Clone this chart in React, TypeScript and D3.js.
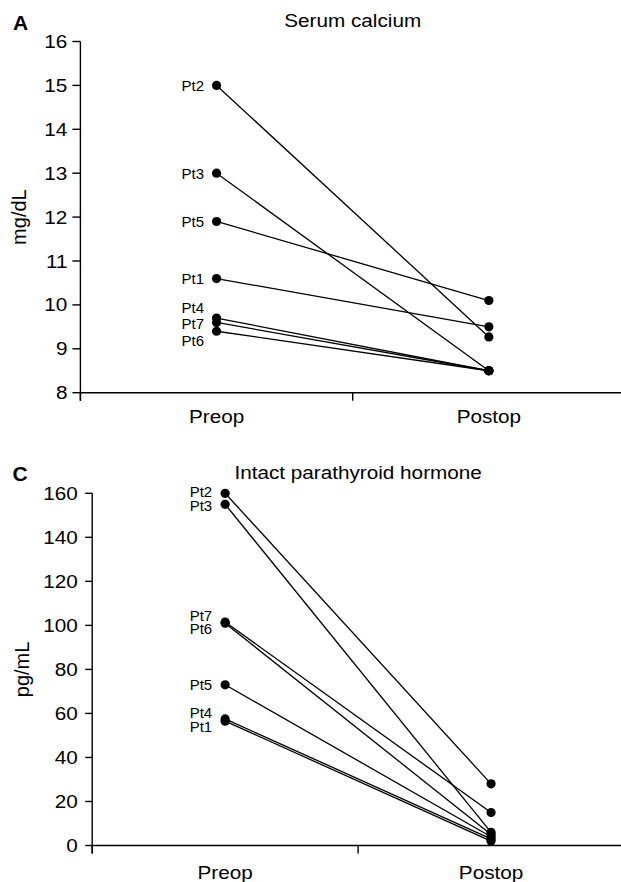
import React from 'react';
import * as d3 from 'd3';

// ---------- data ----------
const patients = ['Pt1', 'Pt2', 'Pt3', 'Pt4', 'Pt5', 'Pt6', 'Pt7'];
const timepoints = ['Preop', 'Postop'];

const calciumPreop = [10.6, 15.0, 13.0, 9.7, 11.9, 9.4, 9.6];
const calciumPostop = [9.5, 9.27, 8.5, 8.5, 10.1, 8.5, 8.5];
const calciumTicks = [8, 9, 10, 11, 12, 13, 14, 15, 16];

const pthPreop = [56.5, 160, 155, 57.5, 73, 101, 101.5];
const pthPostop = [2, 28, 6, 3, 4, 5, 15];
const pthTicks = [0, 20, 40, 60, 80, 100, 120, 140, 160];

const FONT = '"Liberation Sans", Arial, Helvetica, sans-serif';

// spread overlapping label positions apart, keeping clusters centred
function dodge(ys: number[], gap: number): number[] {
  const order = ys.map((y, i) => i).sort((a, b) => ys[a] - ys[b]);
  type Cl = { idx: number[]; mean: number };
  let clusters: Cl[] = order.map((i) => ({ idx: [i], mean: ys[i] }));
  const top = (c: Cl) => c.mean - ((c.idx.length - 1) / 2) * gap;
  const bot = (c: Cl) => c.mean + ((c.idx.length - 1) / 2) * gap;
  let merged = true;
  while (merged) {
    merged = false;
    for (let k = 1; k < clusters.length; k++) {
      if (top(clusters[k]) - bot(clusters[k - 1]) < gap) {
        const idx = [...clusters[k - 1].idx, ...clusters[k].idx];
        const mean = d3.mean(idx.map((i) => ys[i])) as number;
        clusters.splice(k - 1, 2, { idx, mean });
        merged = true;
        break;
      }
    }
  }
  const out = new Array(ys.length).fill(0);
  clusters.forEach((c) => {
    c.idx.forEach((i, j) => {
      out[i] = top(c) + j * gap;
    });
  });
  return out;
}

type TProps = {
  x: number;
  y: number;
  size: number;
  sx?: number;
  anchor?: 'start' | 'middle' | 'end';
  baseline?: string;
  weight?: string | number;
  children: React.ReactNode;
};
function T({ x, y, size, sx = 1, anchor = 'start', baseline, weight, children }: TProps) {
  return (
    <text
      transform={`translate(${x},${y}) scale(${sx},1)`}
      fontSize={size}
      fontFamily={FONT}
      fontWeight={weight}
      textAnchor={anchor}
      dominantBaseline={baseline}
      fill="#000"
    >
      {children}
    </text>
  );
}

type PanelProps = {
  letter: string;
  letterX: number;
  letterY: number;
  title: string;
  titleY: number;
  yLabel: string;
  yLabelX: number;
  domain: [number, number];
  ticks: number[];
  pre: number[];
  post: number[];
  yRange: [number, number];
  xRange: [number, number];
  tickLen: number;
  tickGap: number;
  xLabelDy: number;
  ptSize: number;
  ptSx: number;
  ptOffset: number;
  ptGap: number;
};

function Panel(p: PanelProps) {
  const y = d3.scaleLinear().domain(p.domain).range(p.yRange);
  const x = d3.scaleBand<string>().domain(timepoints).range(p.xRange).padding(0);
  const cx = (t: string) => (x(t) as number) + x.bandwidth() / 2;
  const x0 = p.xRange[0];
  const axisY = y(p.domain[0]);
  const yTop = y(p.domain[1]);
  const preX = cx('Preop');
  const postX = cx('Postop');
  const labelYs = dodge(p.pre.map((v) => y(v)), p.ptGap);
  const midTick = x('Postop') as number;

  return (
    <g>
      <T x={p.letterX} y={p.letterY} size={20} sx={1.05} weight="bold">
        {p.letter}
      </T>
      <T x={midTick} y={p.titleY} size={18.5} sx={1.12} anchor="middle">
        {p.title}
      </T>
      <text
        transform={`translate(${p.yLabelX},${(axisY + yTop) / 2}) rotate(-90)`}
        fontSize={20}
        fontFamily={FONT}
        textAnchor="middle"
        fill="#000"
      >
        {p.yLabel}
      </text>

      {/* y axis */}
      <line x1={x0} x2={x0} y1={yTop} y2={axisY + 8} stroke="#000" strokeWidth={1.4} />
      {p.ticks.map((t) => (
        <g key={t}>
          <line x1={x0 - p.tickLen} x2={x0} y1={y(t)} y2={y(t)} stroke="#000" strokeWidth={1.4} />
          <T
            x={x0 - p.tickLen - p.tickGap}
            y={y(t)}
            size={18.5}
            sx={1.12}
            anchor="end"
            baseline="central"
          >
            {t}
          </T>
        </g>
      ))}

      {/* x axis */}
      <line x1={x0} x2={p.xRange[1]} y1={axisY} y2={axisY} stroke="#000" strokeWidth={1.4} />
      {timepoints.map((t) => (
        <g key={t}>
          <line
            x1={x(t) as number}
            x2={x(t) as number}
            y1={axisY}
            y2={axisY + 8}
            stroke="#000"
            strokeWidth={1.4}
          />
          <T x={cx(t)} y={axisY + p.xLabelDy} size={18.5} sx={1.12} anchor="middle">
            {t}
          </T>
        </g>
      ))}

      {/* patient lines */}
      {patients.map((pt, i) => (
        <line
          key={pt + 'l'}
          x1={preX}
          y1={y(p.pre[i])}
          x2={postX}
          y2={y(p.post[i])}
          stroke="#000"
          strokeWidth={1.3}
        />
      ))}
      {patients.map((pt, i) => (
        <g key={pt + 'd'}>
          <circle cx={preX} cy={y(p.pre[i])} r={4.6} fill="#000" />
          <circle cx={postX} cy={y(p.post[i])} r={4.6} fill="#000" />
        </g>
      ))}
      {patients.map((pt, i) => (
        <T
          key={pt + 't'}
          x={preX - p.ptOffset}
          y={labelYs[i]}
          size={p.ptSize}
          sx={p.ptSx}
          anchor="end"
          baseline="central"
        >
          {pt}
        </T>
      ))}
    </g>
  );
}

export default function App() {
  return (
    <svg
      width={621}
      height={882}
      viewBox="0 0 621 882"
      style={{ position: 'absolute', left: 0, top: 0, background: '#fff' }}
    >
      <rect x={0} y={0} width={621} height={882} fill="#fff" />
      <Panel
        letter="A"
        letterX={13}
        letterY={29.5}
        title="Serum calcium"
        titleY={27}
        yLabel="mg/dL"
        yLabelX={26}
        domain={[8, 16]}
        ticks={calciumTicks}
        pre={calciumPreop}
        post={calciumPostop}
        yRange={[392.7, 41.5]}
        xRange={[80.4, 625]}
        tickLen={8}
        tickGap={5}
        xLabelDy={30.5}
        ptSize={15}
        ptSx={1}
        ptOffset={12.5}
        ptGap={16.7}
      />
      <Panel
        letter="C"
        letterX={12.5}
        letterY={481}
        title="Intact parathyroid hormone"
        titleY={478.5}
        yLabel="pg/mL"
        yLabelX={28.5}
        domain={[0, 160]}
        ticks={pthTicks}
        pre={pthPreop}
        post={pthPostop}
        yRange={[845.5, 493.3]}
        xRange={[92.2, 624]}
        tickLen={7}
        tickGap={7.5}
        xLabelDy={33}
        ptSize={14}
        ptSx={1.07}
        ptOffset={13}
        ptGap={13.8}
      />
    </svg>
  );
}
